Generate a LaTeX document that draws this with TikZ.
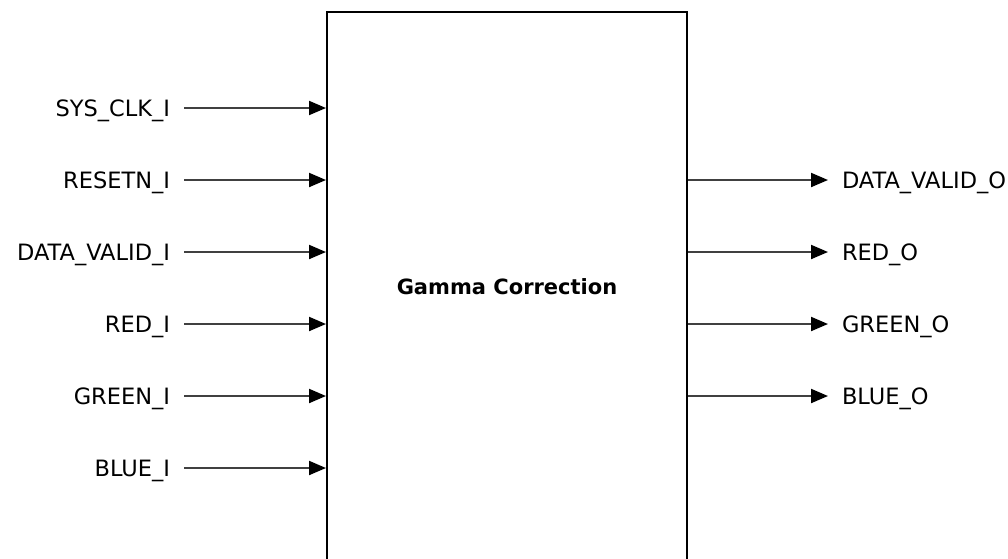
\documentclass[tikz,border=0pt]{standalone}
\usepackage{fontspec}
\setmainfont{DejaVu Sans}
\usetikzlibrary{arrows.meta}

\begin{document}
\begin{tikzpicture}[x=1pt,y=-1pt,
    sig/.style={font=\fontsize{22.5}{26}\selectfont,inner sep=0pt,outer sep=14pt,
                text height=16pt,text depth=0pt},
    port/.style={line width=2pt,draw=black!75,
                 -{Triangle[length=17pt,width=14pt,color=black]}}]
  \useasboundingbox (0,0) rectangle (1008,558);
  % the block: top edge at 12, bottom edge runs off the page
  \node[draw,line width=2pt,minimum width=360pt,minimum height=550pt,
        font=\fontsize{21}{25}\selectfont\bfseries] (gc) at (507,287) {Gamma Correction};
  % inputs, left side
  \foreach \y/\n/\t in {108/clk/SYS\_CLK\_I, 180/rst/RESETN\_I, 252/dvi/DATA\_VALID\_I,
                        324/ri/RED\_I, 396/gi/GREEN\_I, 468/bi/BLUE\_I}{
    \node[sig,anchor=east] (\n) at (184,\y) {\t};
    \draw[port] (\n.east) -- (\n.east -| gc.west);
  }
  % outputs, right side
  \foreach \y/\n/\t in {180/dvo/DATA\_VALID\_O, 252/ro/RED\_O,
                        324/go/GREEN\_O, 396/bo/BLUE\_O}{
    \node[sig,anchor=west] (\n) at (828,\y) {\t};
    \draw[port] (\n.west -| gc.east) -- (\n.west);
  }
\end{tikzpicture}
\end{document}
